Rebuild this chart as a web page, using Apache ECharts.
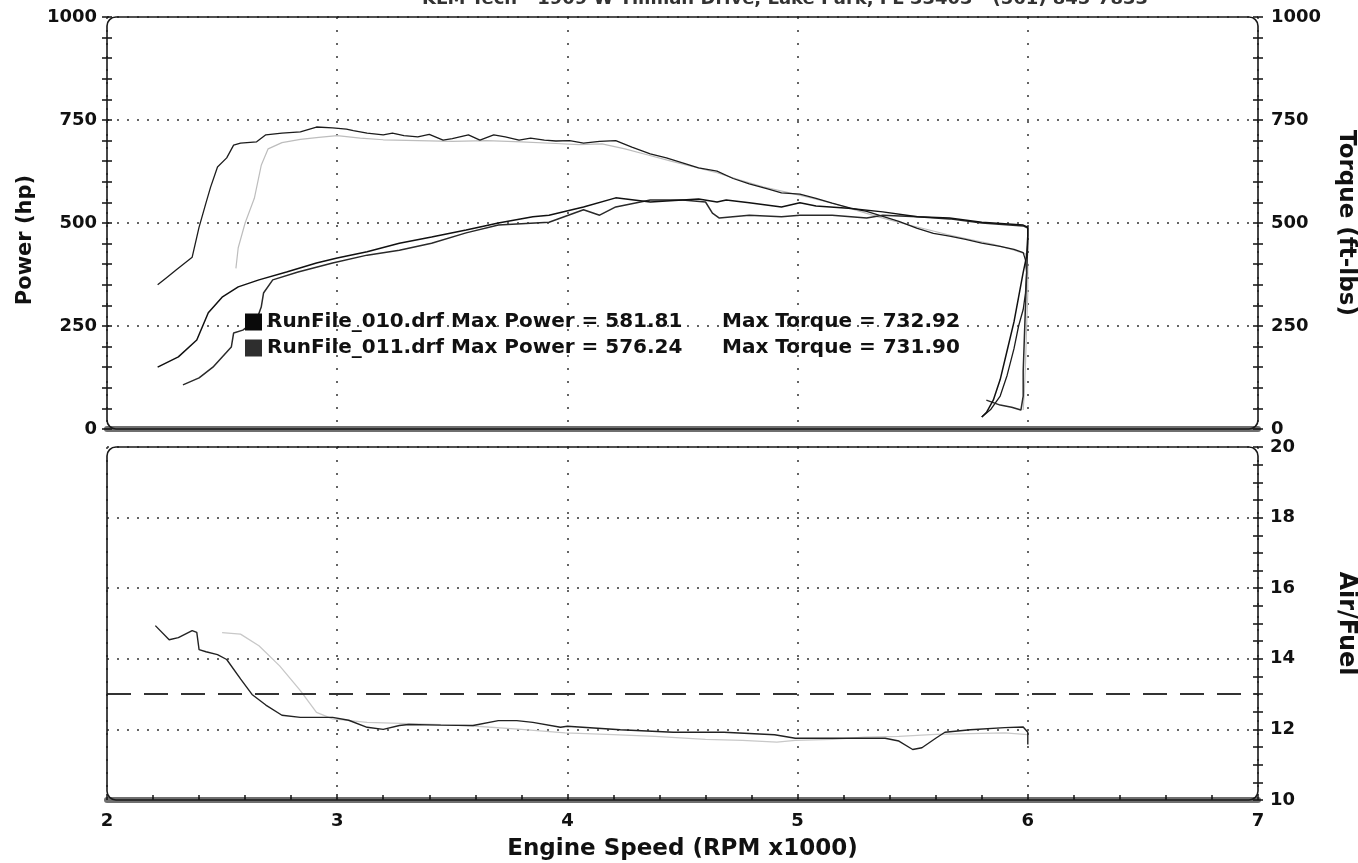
<!DOCTYPE html>
<html><head><meta charset="utf-8">
<script src="https://cdn.jsdelivr.net/npm/echarts@6/dist/echarts.min.js"></script>
<style>html,body{margin:0;padding:0;background:#fff}#c{width:1358px;height:863px}</style>
</head><body><div id="c"></div><script>
// ---------------- data ----------------
const runNames = ['RunFile_010.drf', 'RunFile_011.drf'];
const maxPower = ['581.81', '576.24'];
const maxTorque = ['732.92', '731.90'];
const rpmTicks = [2, 3, 4, 5, 6, 7];
const powerTicks = [0, 250, 500, 750, 1000];
const afrTicks = [10, 12, 14, 16, 18, 20];
const afrTarget = 13.0;

const torque010 = [[2.22,350],[2.26,368],[2.30,386],[2.37,417],[2.40,490],[2.43,549],[2.45,587],[2.48,636],[2.52,658],[2.55,689],[2.58,694],[2.65,697],[2.69,714],[2.76,718],[2.84,721],[2.91,733],[2.98,731],[3.04,728],[3.07,724],[3.13,718],[3.20,714],[3.24,718],[3.29,712],[3.35,709],[3.40,715],[3.46,701],[3.50,705],[3.57,714],[3.62,701],[3.68,714],[3.73,709],[3.79,701],[3.84,706],[3.90,701],[3.95,699],[4.01,700],[4.07,694],[4.14,698],[4.21,700],[4.28,684],[4.36,668],[4.43,658],[4.50,646],[4.57,634],[4.65,626],[4.72,608],[4.79,595],[4.87,583],[4.93,573],[5.01,570],[5.08,560],[5.15,548],[5.23,536],[5.30,528],[5.37,516],[5.44,504],[5.52,487],[5.59,475],[5.66,468],[5.73,460],[5.80,451],[5.88,443],[5.94,436],[5.98,428],[5.99,410],[5.995,380],[5.99,330],[5.98,290],[5.96,250],[5.94,195],[5.91,130],[5.88,80],[5.84,48],[5.80,29]];
const torque011 = [[2.56,390],[2.57,440],[2.60,500],[2.64,560],[2.67,640],[2.70,680],[2.76,695],[2.84,703],[2.92,708],[3.00,712],[3.10,706],[3.20,702],[3.35,700],[3.50,698],[3.65,700],[3.80,697],[3.95,693],[4.05,690],[4.15,692],[4.25,680],[4.35,665],[4.45,650],[4.55,636],[4.65,622],[4.75,604],[4.85,588],[4.95,575],[5.05,562],[5.15,548],[5.25,532],[5.35,515],[5.45,500],[5.55,486],[5.65,472],[5.75,460],[5.85,448],[5.93,436],[5.99,425],[6.00,400],[6.00,330],[5.995,250],[5.99,160],[5.985,90],[5.98,46]];
const power010 = [[2.22,150],[2.31,175],[2.39,216],[2.44,282],[2.50,320],[2.57,345],[2.66,362],[2.78,381],[2.91,403],[3.00,415],[3.13,430],[3.27,451],[3.41,466],[3.56,483],[3.70,500],[3.85,515],[3.92,519],[4.07,539],[4.21,561],[4.36,551],[4.50,556],[4.57,558],[4.65,551],[4.69,556],[4.79,549],[4.93,539],[5.01,549],[5.08,541],[5.22,536],[5.37,527],[5.52,515],[5.66,512],[5.80,502],[5.98,495],[6.00,490],[6.00,470],[5.995,420],[5.98,380],[5.96,320],[5.94,260],[5.91,190],[5.88,120],[5.85,70],[5.82,40],[5.80,29]];
const power011 = [[2.33,107],[2.40,124],[2.46,150],[2.54,199],[2.55,233],[2.59,240],[2.65,265],[2.67,296],[2.68,330],[2.72,362],[2.83,381],[2.98,403],[3.13,422],[3.27,434],[3.41,451],[3.56,476],[3.70,495],[3.92,502],[4.07,532],[4.14,519],[4.21,539],[4.36,556],[4.50,556],[4.60,551],[4.63,524],[4.66,512],[4.79,519],[4.93,515],[5.01,519],[5.15,519],[5.30,512],[5.37,519],[5.52,515],[5.66,510],[5.80,500],[5.98,493],[6.00,488],[6.00,450],[5.995,380],[5.99,300],[5.985,220],[5.98,140],[5.98,80],[5.97,46],[5.93,53],[5.88,58],[5.82,70]];
const afr010 = [[2.21,14.94],[2.27,14.54],[2.31,14.6],[2.37,14.8],[2.39,14.75],[2.40,14.26],[2.43,14.2],[2.48,14.12],[2.52,13.98],[2.58,13.43],[2.63,12.99],[2.69,12.69],[2.76,12.4],[2.84,12.34],[2.98,12.34],[3.05,12.26],[3.13,12.06],[3.20,12.0],[3.27,12.11],[3.31,12.14],[3.45,12.12],[3.59,12.11],[3.70,12.25],[3.78,12.25],[3.85,12.2],[3.97,12.06],[4.00,12.09],[4.23,11.99],[4.46,11.92],[4.68,11.92],[4.90,11.85],[4.99,11.75],[5.22,11.75],[5.38,11.75],[5.44,11.67],[5.50,11.43],[5.54,11.48],[5.60,11.75],[5.64,11.92],[5.75,11.99],[5.90,12.05],[5.98,12.07],[6.00,11.92],[6.00,11.57]];
const afr011 = [[2.50,14.74],[2.58,14.7],[2.66,14.37],[2.75,13.8],[2.84,13.1],[2.91,12.48],[2.98,12.3],[3.13,12.2],[3.42,12.14],[3.56,12.11],[3.80,12.0],[3.99,11.9],[4.20,11.85],[4.38,11.8],[4.60,11.72],[4.76,11.69],[4.91,11.64],[4.99,11.69],[5.15,11.72],[5.29,11.78],[5.44,11.8],[5.60,11.86],[5.75,11.88],[5.90,11.9],[6.00,11.85]];

// ---------------- layout / style ----------------
const FONT = 'DejaVu Sans';
const INK = '#111';
const G0 = {left: 107, top: 17, width: 1151, height: 412};
const G1 = {left: 107, top: 447, width: 1151, height: 353};
const dotH = {type: [2, 8], color: '#333', width: 1.5};
const dotV = {type: [2, 11], color: '#333', width: 1.5};
const boldText = (size) => ({fontFamily: FONT, fontWeight: 'bold', fontSize: size, color: INK});
const stepOf = (t) => t[1] - t[0];
const plain = (v) => String(v);

function tickAxis(gridIndex, position, ticks, minorSplit, inside) {
  return {
    type: 'value', gridIndex, position,
    min: ticks[0], max: ticks[ticks.length - 1], interval: stepOf(ticks),
    axisLine: {show: false},
    axisTick: {show: true, inside, length: 5, lineStyle: {color: INK, width: 1.5}},
    minorTick: {show: true, splitNumber: minorSplit, length: 5, lineStyle: {color: INK, width: 1.5}},
    axisLabel: {show: false}, splitLine: {show: false}
  };
}

const chart = echarts.init(document.getElementById('c'));
const yAxes = [
  Object.assign(tickAxis(0, 'left', powerTicks, 5, true), {
    name: 'Power (hp)', nameLocation: 'middle', nameGap: 70, nameRotate: 90,
    nameTextStyle: Object.assign(boldText(21), {padding: [0, 34, 0, 0]}),
    axisLabel: Object.assign(boldText(18), {show: true, margin: 10, formatter: plain}),
    splitLine: {show: true, lineStyle: dotH}
  }),
  Object.assign(tickAxis(0, 'right', powerTicks, 5, true), {
    name: 'Torque (ft-lbs)', nameLocation: 'middle', nameGap: 76, nameRotate: -90,
    nameTextStyle: boldText(23),
    axisLabel: Object.assign(boldText(18), {show: true, margin: 13, formatter: plain})
  }),
  Object.assign(tickAxis(1, 'right', afrTicks, 4, true), {
    name: 'Air/Fuel', nameLocation: 'middle', nameGap: 76, nameRotate: -90,
    nameTextStyle: boldText(24),
    axisLabel: Object.assign(boldText(18), {show: true, margin: 12, formatter: plain}),
    splitLine: {show: true, lineStyle: dotH}
  }),
  tickAxis(0, 'left', powerTicks, 5, false),
  tickAxis(0, 'right', powerTicks, 5, false),
  tickAxis(1, 'right', afrTicks, 4, false)
];

const xBase = (gridIndex) => ({
  type: 'value', gridIndex, min: rpmTicks[0], max: rpmTicks[rpmTicks.length - 1], interval: stepOf(rpmTicks),
  axisLine: {show: true, onZero: false, lineStyle: {color: '#6f6f6f', width: 6}},
  splitLine: {show: true, lineStyle: dotV}
});
const xAxes = [
  Object.assign(xBase(0), {axisTick: {show: false}, axisLabel: {show: false}}),
  Object.assign(xBase(1), {
    axisTick: {show: true, inside: true, length: 6, lineStyle: {color: INK, width: 1.5}},
    minorTick: {show: true, splitNumber: 5, length: 5, lineStyle: {color: INK, width: 1.5}},
    axisLabel: Object.assign(boldText(18), {margin: 12, formatter: plain}),
    name: 'Engine Speed (RPM x1000)', nameLocation: 'middle', nameGap: 38,
    nameTextStyle: boldText(23)
  })
];

const line = (name, data, xi, yi, color, width, extra) => Object.assign({
  type: 'line', name, data, xAxisIndex: xi, yAxisIndex: yi,
  showSymbol: false, symbol: 'none', smooth: false, silent: true,
  lineStyle: {color, width}, itemStyle: {color}, z: 3
}, extra || {});

const option = {
  animation: false,
  backgroundColor: '#fff',
  title: {
    text: 'KLM Tech - 1909 W Tillman Drive, Lake Park, FL 33403 - (561) 845-7833',
    left: 422, top: -10, padding: 0,
    textStyle: {fontFamily: FONT, fontWeight: 'bold', fontSize: 18, color: '#333'}
  },
  grid: [
    Object.assign({outerBoundsMode: 'none', containLabel: false}, G0),
    Object.assign({outerBoundsMode: 'none', containLabel: false}, G1)
  ],
  legend: {
    left: 245, top: 312, orient: 'vertical', icon: 'rect', padding: 0,
    itemWidth: 17, itemHeight: 17, itemGap: 6, selectedMode: false,
    data: [
      {name: runNames[0], itemStyle: {color: '#0a0a0a'}},
      {name: runNames[1], itemStyle: {color: '#2e2e2e'}}
    ],
    formatter: (name) => {
      const i = runNames.indexOf(name);
      return '{a|' + name + ' Max Power = ' + maxPower[i] + '}{b|Max Torque = ' + maxTorque[i] + '}';
    },
    textStyle: {
      rich: {
        a: Object.assign(boldText(20), {width: 455, lineHeight: 17}),
        b: Object.assign(boldText(20), {lineHeight: 17})
      }
    }
  },
  xAxis: xAxes,
  yAxis: yAxes,
  series: [
    line(runNames[1], torque011, 0, 1, '#bdbdbd', 1.2),
    line(runNames[0], torque010, 0, 1, '#1c1c1c', 1.3),
    line(runNames[1], power011, 0, 0, '#2a2a2a', 1.5),
    line(runNames[0], power010, 0, 0, '#111', 1.5),
    line(runNames[1], afr011, 1, 2, '#c8c8c8', 1.3),
    line(runNames[0], afr010, 1, 2, '#222', 1.4, {
      markLine: {
        silent: true, symbol: 'none', label: {show: false},
        lineStyle: {type: [24, 13], color: '#333', width: 2},
        data: [{yAxis: afrTarget}]
      }
    })
  ],
  graphic: [
    {type: 'rect', silent: true, z: 10,
     shape: {x: G0.left, y: G0.top, width: G0.width, height: G0.height, r: 9},
     style: {fill: null, stroke: '#1a1a1a', lineWidth: 1.6}},
    {type: 'rect', silent: true, z: 10,
     shape: {x: G1.left, y: G1.top, width: G1.width, height: G1.height, r: 9},
     style: {fill: null, stroke: '#1a1a1a', lineWidth: 1.6}}
  ]
};
chart.setOption(option);
</script></body></html>
